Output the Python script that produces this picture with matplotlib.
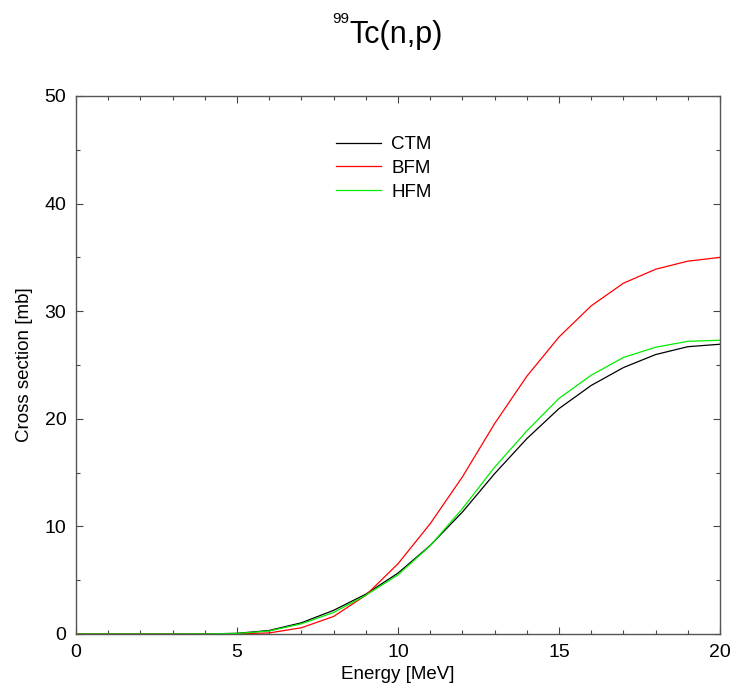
import matplotlib
matplotlib.use("Agg")
import matplotlib.pyplot as plt
from matplotlib.ticker import MultipleLocator

plt.rcParams['font.family'] = ['Liberation Sans', 'DejaVu Sans']

energy = list(range(0, 21))
ctm = [0, 0, 0, 0, 0.01, 0.06, 0.33, 1.04, 2.2, 3.7, 5.66, 8.23, 11.33, 14.9,
       18.15, 20.95, 23.1, 24.76, 25.97, 26.7, 26.93]
bfm = [0, 0, 0, 0, 0, 0.02, 0.1, 0.58, 1.63, 3.6, 6.53, 10.25, 14.6, 19.55,
       23.95, 27.6, 30.5, 32.6, 33.9, 34.65, 35.0]
hfm = [0, 0, 0, 0, 0.01, 0.05, 0.28, 0.95, 2.0, 3.6, 5.5, 8.2, 11.65, 15.5,
       18.87, 21.9, 24.05, 25.7, 26.65, 27.2, 27.3]
labels = ['CTM', 'BFM', 'HFM']
colors = ['#000000', '#ff0000', '#00ee00']
title_mass = '99'
title_text = 'Tc(n,p)'

W, H = 734, 692
fig = plt.figure(figsize=(W / 100, H / 100), dpi=100)
ax = fig.add_axes([76 / W, 1 - 634 / H, (720 - 76) / W, (634 - 96) / H])

for y, lab, c in zip([ctm, bfm, hfm], labels, colors):
    ax.plot(energy, y, color=c, lw=0.9, label=lab)

ax.set_xlim(0, 20)
ax.set_ylim(0, 50)
ax.xaxis.set_major_locator(MultipleLocator(5))
ax.xaxis.set_minor_locator(MultipleLocator(1))
ax.yaxis.set_major_locator(MultipleLocator(10))
ax.yaxis.set_minor_locator(MultipleLocator(5))
ax.tick_params(which='both', direction='in', top=True, right=True,
               color='#444444', width=0.8)
ax.tick_params(which='major', length=5, labelsize=14, pad=7)
ax.tick_params(which='minor', length=3)
for s in ax.spines.values():
    s.set_color('#555555')
    s.set_linewidth(1.0)

ax.set_xlabel('Energy [MeV]', fontsize=13.5, labelpad=4)
ax.set_ylabel('Cross section [mb]', fontsize=13.5, labelpad=8)

fig.text(349 / W, 1 - 43.5 / H, title_text, fontsize=22,
         ha='left', va='baseline')
fig.text(349.5 / W, 1 - 23 / H, title_mass, fontsize=11,
         ha='right', va='baseline')

ax.legend(loc='upper left', bbox_to_anchor=(336 / W, 1 - 136 / H),
          bbox_transform=fig.transFigure, frameon=False, fontsize=13.5,
          handlelength=2.4, handletextpad=0.55, labelspacing=0.36,
          borderpad=0, borderaxespad=0)

fig.savefig('out.png', dpi=100)
